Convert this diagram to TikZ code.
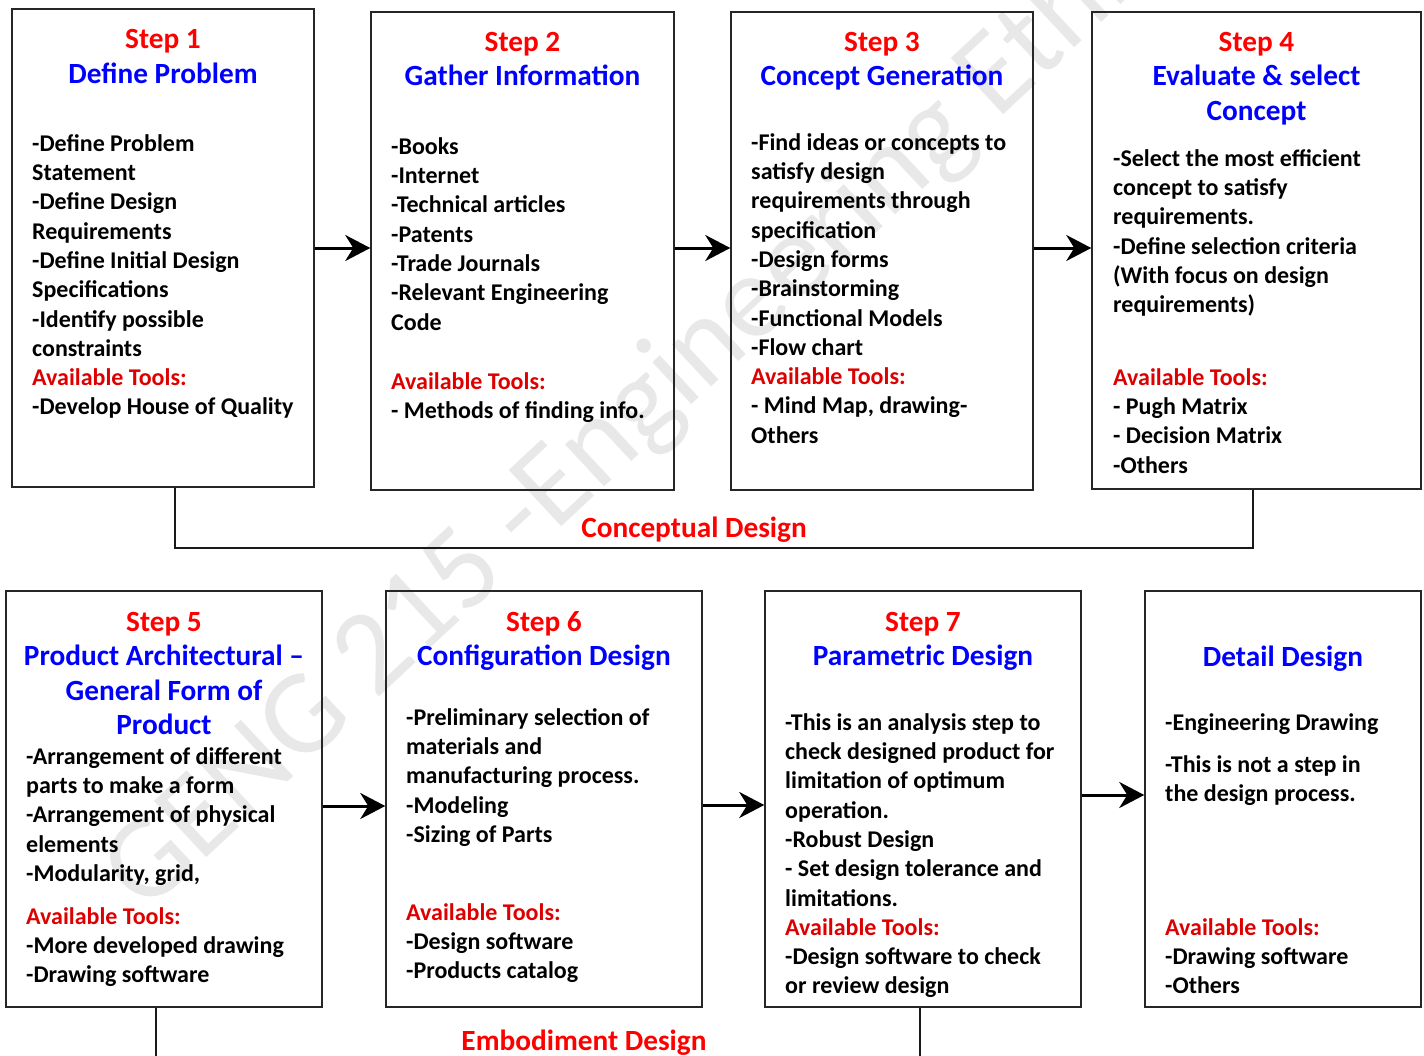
\documentclass[tikz,border=0pt]{standalone}
\usepackage{fontspec}
\setmainfont{Carlito}
\usetikzlibrary{arrows.meta}

\definecolor{stepred}{HTML}{FF0000}
\definecolor{toolred}{HTML}{DD0000}
\definecolor{headblue}{HTML}{0000FF}
\definecolor{wmgray}{HTML}{E8E8E8}

\newcommand{\bodyfont}{\fontsize{24}{29.3}\selectfont\bfseries}
\newcommand{\headfont}{\fontsize{29.3}{34.5}\selectfont\bfseries}
\newcommand{\phasefont}{\fontsize{29.3}{34}\selectfont\bfseries}
\newcommand{\stp}[1]{\strut\textcolor{stepred}{#1}}
\newcommand{\tools}{\textcolor{toolred}{Available Tools:}}

\begin{document}
\begin{tikzpicture}[x=1pt,y=-1pt,
  stepbox/.style={draw=black!85,line width=1.5pt,inner sep=0pt},
  head/.style={anchor=north,inner sep=0pt,align=center,font=\headfont,
    text=headblue,yshift=24.15pt},
  body/.style={anchor=north west,inner sep=0pt,align=left,font=\bodyfont,
    text=black,yshift=20.51pt},
  flow/.style={line width=3pt,-{Stealth[length=25pt,width=26pt,inset=8pt]}},
  bracket/.style={line width=2.4pt,black!90},
  phase/.style={inner sep=0pt,font=\phasefont,text=stepred,anchor=base}]

\useasboundingbox (0,0) rectangle (1424,1055);

% faint watermark behind everything
\node[anchor=base west,rotate=43,inner sep=0pt,text=wmgray,
  font=\fontsize{120}{120}\selectfont] (wm) at (145,915)
  {GENG 215 -Engineering Ethics};

% ---- conceptual design row ----
\node[stepbox,minimum width=302pt,minimum height=478pt] (b1) at (163,248) {};
\node[stepbox,minimum width=303pt,minimum height=478pt] (b2) at (522.5,251) {};
\node[stepbox,minimum width=302pt,minimum height=478pt] (b3) at (882,251) {};
\node[stepbox,minimum width=329pt,minimum height=477pt] (b4) at (1256.5,250.5) {};

\node[head] (h1) at (163,48.5) {\stp{Step 1}\\Define Problem};
\node[body] (t1) at (32,151) {\strut -Define Problem\\Statement\\-Define Design\\Requirements\\-Define Initial Design\\Specifications\\-Identify possible\\constraints};
\node[body] (u1) at (32,385.4) {\strut\tools\\-Develop House of Quality};

\node[head] (h2) at (522.5,51) {\stp{Step 2}\\Gather Information};
\node[body] (t2) at (391,154) {\strut -Books\\-Internet\\-Technical articles\\-Patents\\-Trade Journals\\-Relevant Engineering\\Code};
\node[body] (u2) at (391,389) {\strut\tools\\- Methods of finding info.};

\node[head] (h3) at (882,51) {\stp{Step 3}\\Concept Generation};
\node[body] (t3) at (751,150) {\strut -Find ideas or concepts to\\satisfy design\\requirements through\\specification\\-Design forms\\-Brainstorming\\-Functional Models\\-Flow chart};
\node[body] (u3) at (751,384.4) {\strut\tools\\- Mind Map, drawing-\\Others};

\node[head] (h4) at (1256.5,51) {\stp{Step 4}\\Evaluate \& select\\Concept};
\node[body] (t4) at (1113,166) {\strut -Select the most efficient\\concept to satisfy\\requirements.\\-Define selection criteria\\(With focus on design\\requirements)};
\node[body] (u4) at (1113,385) {\strut\tools\\- Pugh Matrix\\- Decision Matrix\\-Others};

\draw[flow] (b1.east) -- (b1.east -| b2.west);
\draw[flow] ([yshift=3pt]b2.east) -- ([yshift=3pt]b2.east -| b3.west);
\draw[flow] ([yshift=3pt]b3.east) -- ([yshift=3pt]b3.east -| b4.west);

\draw[bracket] ([xshift=12pt]b1.south) -- ++(0,60) -| ([xshift=-3.5pt]b4.south);
\node[phase] (cd) at (694,537) {Conceptual Design};

% ---- embodiment design row ----
\node[stepbox,minimum width=316pt,minimum height=416pt] (b5) at (164,799) {};
\node[stepbox,minimum width=316pt,minimum height=416pt] (b6) at (544,799) {};
\node[stepbox,minimum width=316pt,minimum height=416pt] (b7) at (923,799) {};
\node[stepbox,minimum width=276pt,minimum height=416pt] (b8) at (1283,799) {};

\node[head] (h5) at (164,631) {\stp{Step 5}\\Product Architectural –\\General Form of\\Product};
\node[body] (t5) at (26,764) {\strut -Arrangement of different\\parts to make a form\\-Arrangement of physical\\elements\\-Modularity, grid,};
\node[body] (u5) at (26,924) {\strut\tools\\-More developed drawing\\-Drawing software};

\node[head] (h6) at (544,631) {\stp{Step 6}\\Configuration Design};
\node[body] (t6) at (406,725) {\strut -Preliminary selection of\\materials and\\manufacturing process.\\-Modeling\\-Sizing of Parts};
\node[body] (u6) at (406,920) {\strut\tools\\-Design software\\-Products catalog};

\node[head] (h7) at (923,631) {\stp{Step 7}\\Parametric Design};
\node[body] (t7) at (785,730) {\strut -This is an analysis step to\\check designed product for\\limitation of optimum\\operation.\\-Robust Design\\- Set design tolerance and\\limitations.};
\node[body] (u7) at (785,935) {\strut\tools\\-Design software to check\\or review design};

\node[head] (h8) at (1283,666) {\strut Detail Design};
\node[body] (t8) at (1165,730) {\strut -Engineering Drawing};
\node[body] (s8) at (1165,772) {\strut -This is not a step in\\the design process.};
\node[body] (u8) at (1165,935) {\strut\tools\\-Drawing software\\-Others};

\draw[flow] ([yshift=-7pt]b5.east) -- ([yshift=-7pt]b5.east -| b6.west);
\draw[flow] ([yshift=-6pt]b6.east) -- ([yshift=-6pt]b6.east -| b7.west);
\draw[flow] ([yshift=4pt]b7.east) -- ([yshift=4pt]b7.east -| b8.west);

\draw[bracket] ([xshift=-8pt]b5.south) -- ++(0,48);
\draw[bracket] ([xshift=-3pt]b7.south) -- ++(0,48);
\node[phase] (ed) at (584,1050) {Embodiment Design};

\end{tikzpicture}
\end{document}
